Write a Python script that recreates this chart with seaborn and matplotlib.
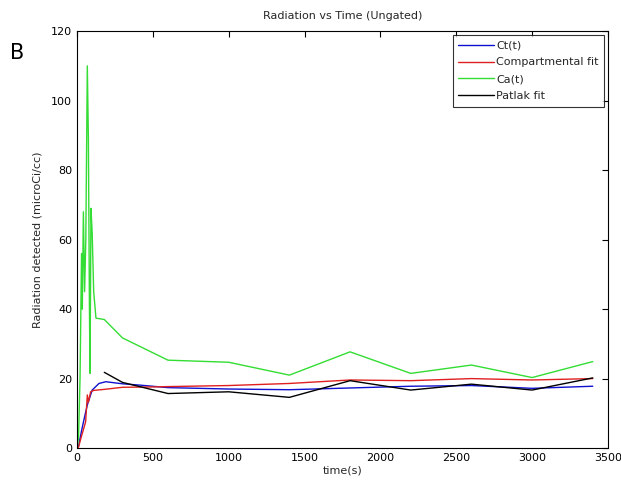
import matplotlib
matplotlib.use("Agg")
import matplotlib.pyplot as plt
import seaborn as sns
import pandas as pd

# Tissue activity Ct(t)
t_ct = [0, 10, 30, 50, 68, 80, 100, 145, 190, 300, 420, 600, 1000, 1400, 1800, 2200, 2600, 3000, 3400]
ct = [0, 0.5, 5, 9, 12.4, 14, 16.7, 18.6, 19.1, 18.5, 18.1, 17.4, 17.0, 16.8, 17.3, 17.8, 18.0, 17.2, 17.8]

# Compartmental model fit
t_fit = [0, 10, 30, 50, 57, 68, 75, 90, 110, 180, 300, 500, 600, 1000, 1400, 1800, 2200, 2600, 3000, 3400]
fit = [0, 0.3, 3.5, 6.5, 7.6, 15.3, 13.2, 16.2, 16.6, 16.9, 17.5, 17.6, 17.7, 18.0, 18.6, 19.6, 19.4, 20.0, 19.6, 20.0]

# Arterial input Ca(t)
t_ca = [0, 10, 20, 30, 35, 42, 50, 58, 68, 75, 82, 86, 92, 100, 110, 125, 180, 300, 600, 1000, 1400, 1800, 2200, 2600, 3000, 3400]
ca = [0, 3, 20, 56, 40, 68, 45, 60, 110, 89, 40, 21.5, 69, 62, 45, 37.4, 37, 31.7, 25.3, 24.7, 21, 27.7, 21.5, 23.9, 20.3, 24.9]

# Patlak fit
t_pat = [180, 300, 600, 1000, 1400, 1800, 2200, 2600, 3000, 3400]
pat = [21.8, 18.9, 15.7, 16.2, 14.6, 19.4, 16.7, 18.4, 16.7, 20.2]

series = [
    ("Ct(t)", t_ct, ct, "#1010d0"),
    ("Compartmental fit", t_fit, fit, "#e02020"),
    ("Ca(t)", t_ca, ca, "#33dd33"),
    ("Patlak fit", t_pat, pat, "#000000"),
]

sns.set_style("white")
plt.rcParams["font.family"] = ["DejaVu Sans"]

fig = plt.figure(figsize=(6.21, 4.86), dpi=100)
ax = fig.add_axes([0.124, 0.078, 0.855, 0.858])

for name, t, v, col in series:
    df = pd.DataFrame({"time": t, "value": v})
    sns.lineplot(data=df, x="time", y="value", ax=ax, color=col, linewidth=1.0,
                 sort=False, estimator=None, label=name)

ax.set_xlim(0, 3500)
ax.set_ylim(0, 120)
ax.set_xticks(range(0, 3501, 500))
ax.set_yticks(range(0, 121, 20))
ax.tick_params(direction="in", top=True, right=True, length=4, width=0.8,
               labelsize=8, colors="black")
for s in ax.spines.values():
    s.set_visible(True)
    s.set_color("black")
    s.set_linewidth(0.8)

ax.set_xlabel("time(s)", fontsize=8, labelpad=2)
ax.set_ylabel("Radiation detected (microCi/cc)", fontsize=8, labelpad=6)
ax.set_title("Radiation vs Time (Ungated)", fontsize=8, pad=9)

leg = ax.legend(loc="upper right", fontsize=8, frameon=True, fancybox=False,
                borderpad=0.5, handlelength=3.2, handletextpad=0.2,
                labelspacing=0.62, borderaxespad=0.35)
leg.get_frame().set_edgecolor("black")
leg.get_frame().set_linewidth(0.8)

fig.text(0.016, 0.878, "B", fontsize=15, color="black")

fig.savefig("out.png", dpi=100, facecolor="white")
